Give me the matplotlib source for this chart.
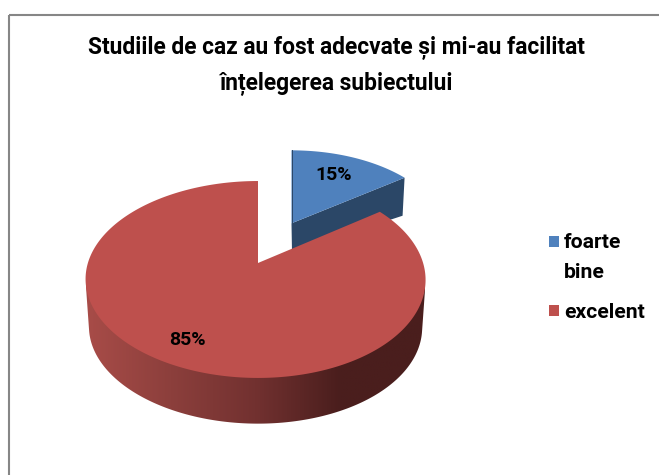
import numpy as np
import matplotlib
matplotlib.use("Agg")
import matplotlib.pyplot as plt
from matplotlib.colors import LinearSegmentedColormap
from matplotlib.patches import Polygon, Rectangle

title_lines = ["Studiile de caz au fost adecvate și mi-au facilitat", "înțelegerea subiectului"]
categories = ["foarte\nbine", "excelent"]
values = [15, 85]
colors = ["#4F81BD", "#BE504D"]
blue_side = "#2B4767"

K = 0.1674
RX, RY = 167.6, 95.7


def project(theta_deg, r, apex, sx=1.0, sy=1.0, bow=0.0):
    t = np.radians(theta_deg)
    u, v = r * np.sin(t), r * np.cos(t)
    w = 1 + K * v
    return apex[0] + sx * RX * u / w - bow * u ** 2, apex[1] - sy * RY * v / w


def poly(ax, xs, ys, **kw):
    p = Polygon(np.column_stack([xs, ys]), closed=True, lw=0, **kw)
    ax.add_patch(p)
    return p


def lower_hull(xs, ys):
    pts = sorted(set(zip(np.round(xs, 2).tolist(), np.round(ys, 2).tolist())))
    hull = []
    for p in pts:
        while len(hull) >= 2:
            (x1, y1), (x2, y2) = hull[-2], hull[-1]
            if (x2 - x1) * (p[1] - y1) - (y2 - y1) * (p[0] - x1) >= 0:
                hull.pop()
            else:
                break
        hull.append(p)
    return np.array(hull)


fig = plt.figure(figsize=(6.59, 4.75), dpi=100)
ax = fig.add_axes([0, 0, 1, 1])
ax.axis("off")
ax.add_patch(Rectangle((9, 15), 700, 500, fc="none", ec="#868686", lw=1.5))

edges = np.cumsum([0] + values) / sum(values) * 360
a0, a1 = edges[0], edges[1]

# blue slice (pulled out)
b_apex = (291.5, 223.3)
b_low = (292, 252)
BX, BY = 0.916, 0.89
th = np.linspace(a0, a1, 60)
bx, by = project(th, 1, b_apex, BX, BY)
ox, oy = project(a1, 1, b_apex, BX, BY)
poly(ax, [b_apex[0], ox, ox - 2, b_low[0]], [b_apex[1], oy, oy + 38, b_low[1]], fc=blue_side)
poly(ax, np.r_[b_apex[0], bx], np.r_[b_apex[1], by], fc=colors[0])
ax.plot([b_apex[0], bx[0]], [b_apex[1], by[0]], color=blue_side, lw=0.7)

# red slice
r_apex = (258, 263)
r_low = (258, 311)
BOW = 2.5
th = np.linspace(a1, edges[2], 400)
tx, ty = project(th, 1, r_apex, bow=BOW)
lx, ly = project(th, 1, r_low, 0.98, 0.98, bow=BOW)
hull = lower_hull(np.r_[tx, lx], np.r_[ty, ly])
side = poly(ax, hull[:, 0], hull[:, 1], fc="none")
cmap = LinearSegmentedColormap.from_list("side", ["#A84C48", "#8C3F3C", "#723130", "#4A1E1D", "#4A1E1D"])
im = ax.imshow(np.linspace(0, 1, 256)[None, :], extent=(86, 425, 430, 170), cmap=cmap,
               aspect="auto", zorder=1, interpolation="bilinear")
im.set_clip_path(side)
poly(ax, np.r_[r_apex[0], tx], np.r_[r_apex[1], ty], fc=colors[1], zorder=2)

ax.set_xlim(0, 659)
ax.set_ylim(475, 0)

FONT = "Roboto"
for line, y in zip(title_lines, (48, 84)):
    ax.text(336, y, line, ha="center", va="center", fontsize=16.4, fontweight="bold",
            family=FONT, color="black")

mids = (edges[:-1] + edges[1:]) / 2
lab_x, lab_y = project(mids[0], 0.7, b_apex, BX, BY)
ax.text(lab_x - 2, lab_y, f"{values[0]}%", ha="center", va="center", fontsize=14, fontweight="bold", family=FONT, zorder=3)
lab_x, lab_y = project(mids[1], 0.8, r_apex)
ax.text(lab_x - 1, lab_y, f"{values[1]}%", ha="center", va="center", fontsize=14, fontweight="bold", family=FONT, zorder=3)

for cat, col, top, ty0 in zip(categories, colors, (236, 305), (243, 312)):
    ax.add_patch(Rectangle((549, top), 10, 11, fc=col, ec="none"))
    for i, part in enumerate(cat.split("\n")):
        ax.text(564, ty0 + 29 * i, part, ha="left", va="center", fontsize=15.2, fontweight="bold", family=FONT)

fig.savefig("out.png", dpi=100)
